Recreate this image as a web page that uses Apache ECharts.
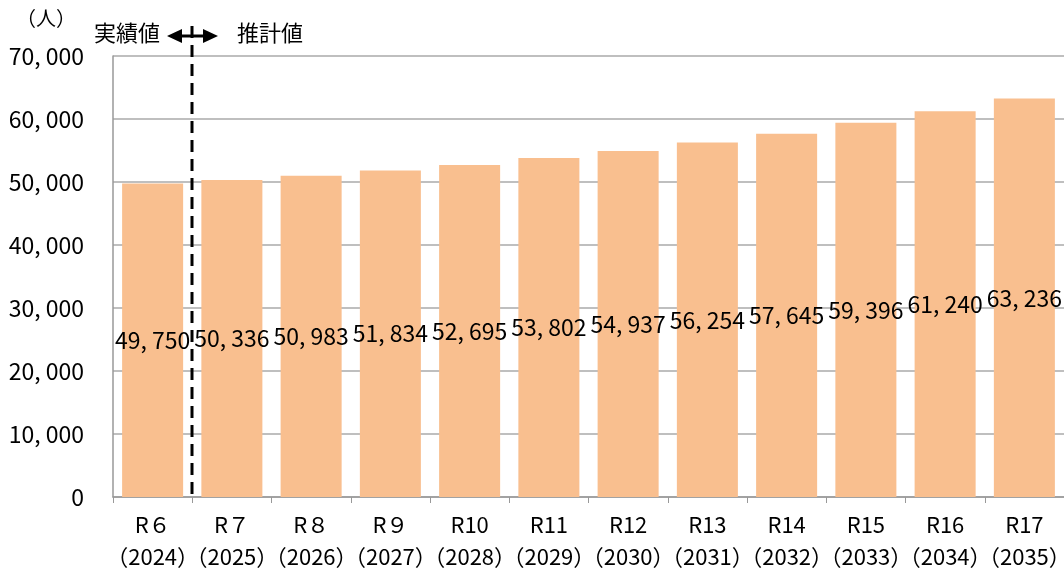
<!DOCTYPE html>
<html>
<head>
<meta charset="utf-8">
<script src="https://cdn.jsdelivr.net/npm/echarts@6/dist/echarts.min.js"></script>
<style>
  html, body { margin: 0; padding: 0; background: #fff; }
  #chart { width: 1064px; height: 571px; }
</style>
</head>
<body>
<div id="chart"></div>
<script>
// data
const eras = ["R６", "R７", "R８", "R９", "R10", "R11", "R12", "R13", "R14", "R15", "R16", "R17"];
const years = ["2024", "2025", "2026", "2027", "2028", "2029", "2030", "2031", "2032", "2033", "2034", "2035"];
const population = [49750, 50336, 50983, 51834, 52695, 53802, 54937, 56254, 57645, 59396, 61240, 63236];

const font = "'Noto Sans CJK JP', sans-serif";
const chart = echarts.init(document.getElementById("chart"));

const withComma = v => String(v).replace(/\B(?=(\d{3})+(?!\d))/g, ", ");

const option = {
  animation: false,
  grid: { left: 113, right: 0, top: 56, bottom: 74, outerBoundsMode: "none", containLabel: false },
  xAxis: {
    type: "category",
    data: eras.map((e, i) => e + "\n（" + years[i] + "）"),
    axisLine: { lineStyle: { color: "#999", width: 1.5 } },
    axisTick: { show: true, length: 6, lineStyle: { color: "#999" } },
    axisLabel: { interval: 0, color: "#000", fontSize: 22, fontFamily: font, lineHeight: 32, margin: 12 }
  },
  yAxis: {
    type: "value",
    min: 0,
    max: 70000,
    interval: 10000,
    axisLine: { show: true, lineStyle: { color: "#999", width: 1.5 } },
    axisTick: { show: false },
    splitLine: { lineStyle: { color: "#aaa", width: 1.5 } },
    axisLabel: { color: "#000", fontSize: 23, fontFamily: font, margin: 29, formatter: withComma }
  },
  series: [{
    type: "bar",
    data: population,
    barCategoryGap: "23%",
    itemStyle: { color: "#F9BF8F" },
    label: {
      show: true,
      position: "inside",
      color: "#000",
      fontSize: 23,
      fontFamily: font,
      formatter: p => withComma(p.value)
    }
  }],
  graphic: [
    { type: "text", left: 16, top: 8, style: { text: "（人）", fontSize: 20, fontFamily: font, fill: "#000" } },
    { type: "text", left: 94, top: 22, style: { text: "実績値", fontSize: 22, fontFamily: font, fill: "#000" } },
    { type: "text", left: 237, top: 22, style: { text: "推計値", fontSize: 22, fontFamily: font, fill: "#000" } },
    { type: "line", shape: { x1: 180, y1: 36, x2: 206, y2: 36 }, style: { stroke: "#000", lineWidth: 3 } },
    { type: "polygon", shape: { points: [[167, 36], [182, 29], [182, 43]] }, style: { fill: "#000" } },
    { type: "polygon", shape: { points: [[218, 36], [203, 29], [203, 43]] }, style: { fill: "#000" } },
    { type: "line", shape: { x1: 192, y1: 26, x2: 192, y2: 497 }, style: { stroke: "#000", lineWidth: 3, lineDash: [12, 7] }, z: 10 }
  ]
};

chart.setOption(option);
</script>
</body>
</html>
